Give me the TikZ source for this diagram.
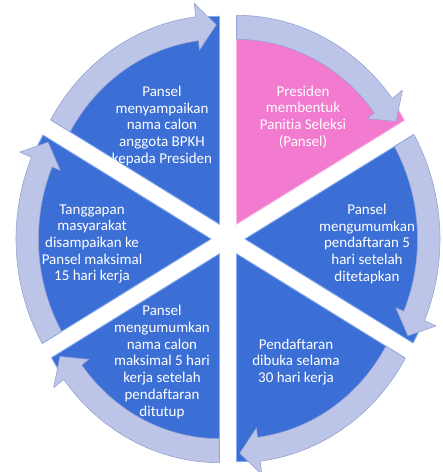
\documentclass[tikz,border=0pt]{standalone}
\usepackage{fontspec}
\setmainfont{Carlito}[Ligatures={NoCommon,NoContextual,NoRequired}, RawFeature={-liga;-clig;-calt;-dlig;-rlig}]
\usetikzlibrary{calc}
\definecolor{bluefill}{HTML}{3C6FD5}
\definecolor{bluedge}{HTML}{86ABEE}
\definecolor{pinkfill}{HTML}{F27ACF}
\definecolor{pinkedge}{HTML}{FAB8E8}
\definecolor{bandfill}{HTML}{BCC5E8}
\definecolor{bandline}{HTML}{97A3D2}
\tikzset{
  segtext/.style={text=white, align=center, font=\fontsize{15}{16.7}\selectfont, inner sep=0pt},
  bandstyle/.style={fill=bandfill, draw=bandline, line width=0.6pt, line join=round},
}
\begin{document}
\begin{tikzpicture}[x=1pt,y=1pt]
\useasboundingbox (0,0) rectangle (443,472);
\coordinate (C) at (228,233);
% wedges
\foreach \b/\fc/\ec in {60/pinkfill/pinkedge, 0/bluefill/bluedge, -60/bluefill/bluedge, -120/bluefill/bluedge, 180/bluefill/bluedge, 120/bluefill/bluedge} {
  \pgfmathsetmacro{\angS}{\b+30}
  \pgfmathsetmacro{\angE}{\b-30}
  \begin{scope}[shift={($(C)+(\b:17pt)$)}, x=195pt, y=209pt]
    \path[fill=\fc, draw=\ec, line width=0.9pt, line join=round] (0,0) -- plot[domain=\angS:\angE, samples=30] (\x:0.995) -- cycle;
  \end{scope}
}
% arrow bands
\foreach \b in {60, 0, -60, -120, 180, 120} {
  \pgfmathsetmacro{\angS}{\b+30}
  \pgfmathsetmacro{\angH}{\b-23}
  \pgfmathsetmacro{\angT}{\b-29}
  \begin{scope}[shift={($(C)+(\b:17pt)$)}, x=195pt, y=209pt]
    \path[bandstyle] plot[domain=\angS:\angH, samples=30] (\x:1) -- (\angH:1.065) -- (\angT:0.955) -- (\angH:0.84) -- plot[domain=\angH:\angS, samples=30] (\x:0.885) -- cycle;
  \end{scope}
}
\node[segtext] (t1) at (303,355) {Presiden\\membentuk\\Panit\kern0pt ia Seleksi\\(Pansel)};
\node[segtext] (t2) at (367,228) {Pansel\\mengumumkan\\pendaf\kern0pt taran 5\\hari setelah\\ditetapkan};
\node[segtext] (t3) at (296,110) {Pendaf\kern0pt taran\\dibuka selama\\30 hari kerja};
\node[segtext] (t4) at (162,110) {Pansel\\mengumumkan\\nama calon\\maksimal 5 hari\\kerja setelah\\pendaf\kern0pt taran\\ditutup};
\node[segtext] (t5) at (92,228) {Tanggapan\\masyarakat\\disampaikan ke\\Pansel maksimal\\15 hari kerja};
\node[segtext] (t6) at (162,346) {Pansel\\menyampaikan\\nama calon\\anggota BPKH\\kepada Presiden};
\end{tikzpicture}
\end{document}
